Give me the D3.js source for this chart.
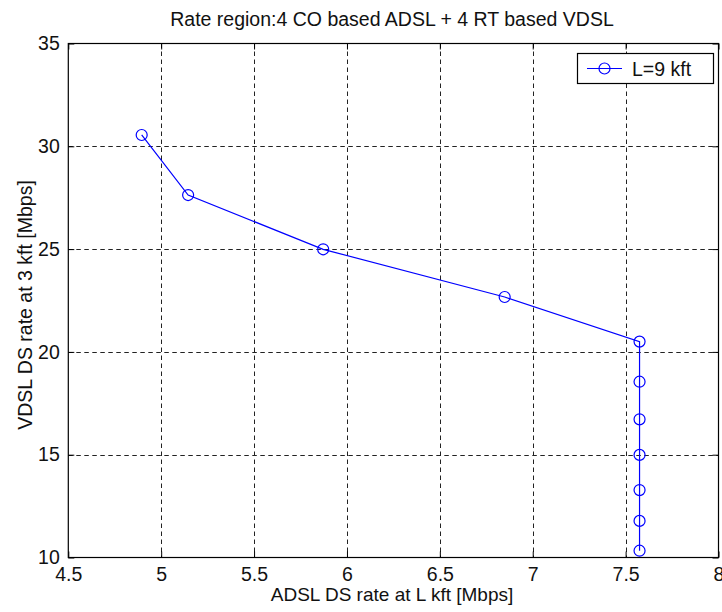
<!DOCTYPE html>
<html>
<head>
<meta charset="utf-8">
<script src="https://cdn.jsdelivr.net/npm/d3@7"></script>
<style>
  html, body { margin: 0; padding: 0; background: #fff; }
  svg text { font-family: "Liberation Sans", Arial, Helvetica, sans-serif; fill: #111; }
</style>
</head>
<body>
<div id="plot"></div>
<script>
// values
const adslRate = [4.895, 5.145, 5.872, 6.849, 7.575, 7.575, 7.575, 7.575, 7.575, 7.575, 7.575];
const vdslRate = [30.55, 27.63, 24.99, 22.67, 20.5, 18.55, 16.72, 14.99, 13.28, 11.78, 10.33];
const xTicks = [4.5, 5, 5.5, 6, 6.5, 7, 7.5, 8];
const yTicks = [10, 15, 20, 25, 30, 35];
const seriesName = "L=9 kft";
const title = "Rate region:4 CO based ADSL + 4 RT based VDSL";
const xLabel = "ADSL DS rate at L kft [Mbps]";
const yLabel = "VDSL DS rate at 3 kft [Mbps]";

const w = 722, h = 612;
const padL = 68.3, padR = 718.5, padT = 43.5, padB = 557.5;
const fs = "19.5px";
const blue = "#0000ff";

const svg = d3.select("#plot").append("svg")
  .attr("width", w)
  .attr("height", h);

const xScale = d3.scaleLinear().domain([4.5, 8]).range([padL, padR]);
const yScale = d3.scaleLinear().domain([10, 35]).range([padB, padT]);

//-------------------grid---------------------------
const gridX = xTicks.slice(1, -1), gridY = yTicks.slice(1, -1);
svg.append("g")
  .selectAll("line")
  .data(gridX)
  .enter().append("line")
  .attr("x1", d => Math.round(xScale(d)) + 0.5)
  .attr("x2", d => Math.round(xScale(d)) + 0.5)
  .attr("y1", padT).attr("y2", padB)
  .attr("stroke", "#222").attr("stroke-dasharray", "4.5,3.5");
svg.append("g")
  .selectAll("line")
  .data(gridY)
  .enter().append("line")
  .attr("y1", d => Math.round(yScale(d)) + 0.5)
  .attr("y2", d => Math.round(yScale(d)) + 0.5)
  .attr("x1", padL).attr("x2", padR)
  .attr("stroke", "#222").attr("stroke-dasharray", "4.5,3.5");

//-------------------axes---------------------------
const xAxis = d3.axisBottom(xScale).tickValues(xTicks).tickSize(-6).tickPadding(9.5).tickFormat(d3.format("~g"));
const yAxis = d3.axisLeft(yScale).tickValues(yTicks).tickSize(-6).tickPadding(8.5).tickFormat(d3.format("d"));
const xTop = d3.axisTop(xScale).tickValues(xTicks).tickSize(-6).tickFormat("");
const yRight = d3.axisRight(yScale).tickValues(yTicks).tickSize(-6).tickFormat("");

function styleAxis(g) {
  g.select(".domain").remove();
  g.selectAll("line").attr("stroke", "#000");
  g.selectAll("text").attr("font-size", fs).attr("fill", "#111");
}
svg.append("g").attr("transform", "translate(0," + padB + ")").call(xAxis).call(styleAxis);
svg.append("g").attr("transform", "translate(" + padL + ",0)").call(yAxis).call(styleAxis);
svg.append("g").attr("transform", "translate(0," + padT + ")").call(xTop).call(styleAxis);
svg.append("g").attr("transform", "translate(" + padR + ",0)").call(yRight).call(styleAxis);

svg.append("rect")
  .attr("x", padL).attr("y", padT)
  .attr("width", padR - padL).attr("height", padB - padT)
  .attr("fill", "none").attr("stroke", "#000").attr("stroke-width", 1.2);

//-------------------series---------------------------
const pts = adslRate.map((v, i) => [v, vdslRate[i]]);
const line = d3.line().x(d => xScale(d[0])).y(d => yScale(d[1]));
svg.append("path")
  .datum(pts)
  .attr("d", line)
  .attr("fill", "none").attr("stroke", blue).attr("stroke-width", 1.2);
svg.append("g")
  .selectAll("circle")
  .data(pts)
  .enter().append("circle")
  .attr("cx", d => xScale(d[0]))
  .attr("cy", d => yScale(d[1]))
  .attr("r", 5.5)
  .attr("fill", "none").attr("stroke", blue).attr("stroke-width", 1.2);

//-------------------labels---------------------------
svg.append("text")
  .attr("x", 392).attr("y", 26)
  .attr("text-anchor", "middle").attr("font-size", fs)
  .text(title);
svg.append("text")
  .attr("x", 392).attr("y", 601)
  .attr("text-anchor", "middle").attr("font-size", "19px")
  .text(xLabel);
svg.append("text")
  .attr("transform", "translate(31.5,305) rotate(-90)")
  .attr("text-anchor", "middle").attr("font-size", fs)
  .text(yLabel);

//-------------------legend---------------------------
const legend = svg.append("g").attr("id", "legend");
legend.append("rect")
  .attr("x", 577.5).attr("y", 53.5)
  .attr("width", 136).attr("height", 30)
  .attr("fill", "#fff").attr("stroke", "#000").attr("stroke-width", 1.2);
legend.append("line")
  .attr("x1", 587).attr("x2", 622).attr("y1", 68.5).attr("y2", 68.5)
  .attr("stroke", blue).attr("stroke-width", 1.2);
legend.append("circle")
  .attr("cx", 604.5).attr("cy", 68.5).attr("r", 5.5)
  .attr("fill", "none").attr("stroke", blue).attr("stroke-width", 1.2);
legend.append("text")
  .attr("x", 632).attr("y", 75.5).attr("font-size", fs)
  .text(seriesName);
</script>
</body>
</html>
